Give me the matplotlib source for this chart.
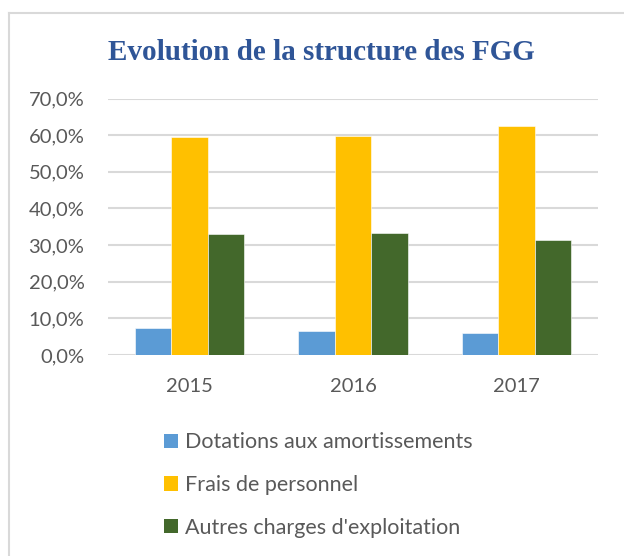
import matplotlib
matplotlib.use("Agg")
import matplotlib.pyplot as plt
from matplotlib.patches import Patch
from matplotlib.lines import Line2D
from matplotlib.ticker import FuncFormatter
import numpy as np

years = ["2015", "2016", "2017"]
series_names = ["Dotations aux amortissements", "Frais de personnel", "Autres charges d'exploitation"]
dotations = [7.3, 6.5, 5.9]
frais = [59.5, 59.9, 62.5]
autres = [33.1, 33.4, 31.3]
colors = ["#5B9BD5", "#FFC000", "#43682B"]
title = "Evolution de la structure des FGG"

W, H = 624, 556
fig = plt.figure(figsize=(W / 100, H / 100), dpi=100)
ax = fig.add_axes([108 / W, 1 - 355 / H, (598 - 108) / W, (355 - 98.5) / H])

x = np.arange(len(years))
bw = 0.223
for i, (vals, c, name) in enumerate(zip([dotations, frais, autres], colors, series_names)):
    ax.bar(x + (i - 1) * bw, vals, width=bw, color=c, label=name, zorder=3,
           edgecolor="white", linewidth=0.4)

ax.set_xlim(-0.5, 2.5)
ax.set_ylim(0, 70)
ax.set_yticks(np.arange(0, 71, 10))
ax.yaxis.set_major_formatter(FuncFormatter(lambda v, p: f"{v:.1f}%".replace(".", ",")))
ax.set_xticks(x)
ax.set_xticklabels(years)
ax.grid(axis="y", color="#D9D9D9", linewidth=1.5, zorder=0)
ax.tick_params(axis="both", length=0, labelsize=14.5, labelcolor="#595959")
ax.tick_params(axis="y", pad=17)
ax.tick_params(axis="x", pad=16.5)
for lab in ax.get_xticklabels() + ax.get_yticklabels():
    lab.set_fontfamily("Lato")
for s in ax.spines.values():
    s.set_visible(False)

fig.text(321 / W, 1 - 52 / H, title, ha="center", va="center", fontsize=21,
         fontweight="bold", color="#2F5597", family="Liberation Serif")

# chart border (left and top visible)
fig.add_artist(Line2D([9 / W, 9 / W], [0, 1 - 13 / H], transform=fig.transFigure, color="#D9D9D9", lw=1.5))
fig.add_artist(Line2D([9 / W, 1], [1 - 13 / H, 1 - 13 / H], transform=fig.transFigure, color="#D9D9D9", lw=1.5))

handles = [Patch(facecolor=c, edgecolor="none") for c in colors]
leg = fig.legend(handles, series_names, loc="upper left", bbox_to_anchor=(145 / W, 1 - 413 / H),
                 frameon=False, prop={"family": "Lato", "size": 15.5}, labelcolor="#595959",
                 handlelength=0.65, handleheight=0.65, handletextpad=0.3, labelspacing=1.05)

fig.savefig("out.png", dpi=100)
